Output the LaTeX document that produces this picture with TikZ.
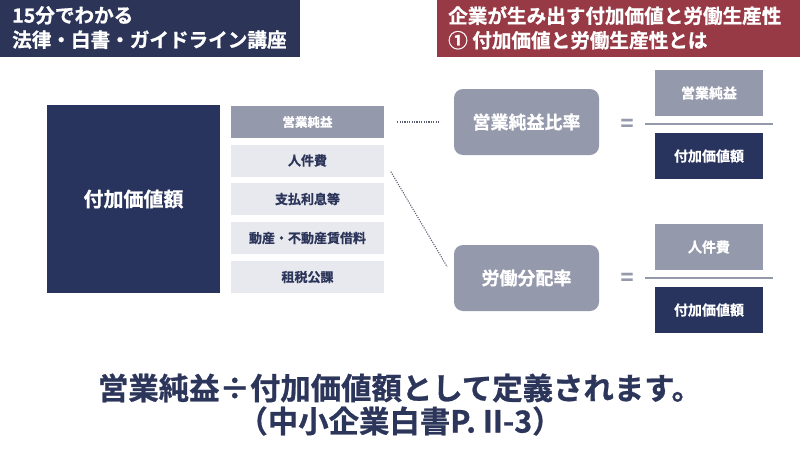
\documentclass[tikz,border=0pt]{standalone}
\usepackage{fontspec}
\setmainfont{Noto Sans CJK JP}[BoldFont={Noto Sans CJK JP Bold},BoldFeatures={FakeBold=0.8}]
\definecolor{navy}{RGB}{40,51,94}
\definecolor{hdrnavy}{RGB}{44,52,88}
\definecolor{wine}{RGB}{152,58,69}
\definecolor{mgray}{RGB}{149,153,172}
\definecolor{lgray}{RGB}{232,233,238}
\definecolor{txtnavy}{RGB}{44,53,90}
\definecolor{dotgray}{RGB}{90,94,112}
\tikzset{
  hdr/.style={anchor=north west,inner sep=0pt,text=white,align=left,font=\fontsize{19.6}{24.5}\selectfont\bfseries},
  bigbox/.style={fill=navy,minimum width=173pt,minimum height=188pt,inner sep=0pt,text=white,font=\fontsize{20}{24}\selectfont\bfseries},
  stackbox/.style={fill=lgray,minimum width=153pt,minimum height=32pt,inner sep=0pt,text=txtnavy,font=\fontsize{13}{15}\selectfont\bfseries},
  stacktop/.style={stackbox,fill=mgray,text=white,font=\fontsize{12.5}{15}\selectfont\bfseries},
  ratiobox/.style={fill=mgray,rounded corners=9pt,minimum width=145pt,minimum height=66pt,inner sep=0pt,text=white,font=\fontsize{18}{22}\selectfont\bfseries},
  numbox/.style={fill=mgray,minimum width=108pt,minimum height=46pt,inner sep=0pt,text=white,font=\fontsize{14}{17}\selectfont\bfseries},
  denbox/.style={numbox,fill=navy},
  eqsign/.style={text=mgray,inner sep=0pt,font=\fontsize{22}{24}\selectfont\bfseries},
  fracline/.style={draw=mgray,line width=1.6pt},
  dotline/.style={draw=dotgray,line width=1.1pt,dash pattern=on 1.1pt off 1.3pt},
  bottomtxt/.style={text=txtnavy,inner sep=0pt,font=\fontsize{30.4}{34}\selectfont\bfseries}
}
\begin{document}
\begin{tikzpicture}[x=1pt,y=-1pt]
\useasboundingbox (0,0) rectangle (800,450);
\fill[white] (0,0) rectangle (800,450);
% headers
\fill[hdrnavy] (0,0) rectangle (300,57);
\node[hdr] (h1) at (12,6) {15分でわかる\\法律・白書・ガイドライン講座};
\fill[wine] (437,0) rectangle (800,57);
\node[hdr] (h2) at (448,6) {企業が生み出す付加価値と労働生産性\\① 付加価値と労働生産性とは};
% big box
\node[bigbox] (big) at (133.5,199) {付加価値額};
% stack
\node[stacktop] (s1) at (307.5,122) {営業純益};
\node[stackbox] (s2) at (307.5,160.5) {人件費};
\node[stackbox] (s3) at (307.5,199) {支払利息等};
\node[stackbox] (s4) at (307.5,238) {動産・不動産賃借料};
\node[stackbox] (s5) at (307.5,277) {租税公課};
% ratios
\node[ratiobox] (r1) at (526.5,122) {営業純益比率};
\node[ratiobox] (r2) at (526.5,278) {労働分配率};
\draw[dotline,shorten <=13pt,shorten >=14pt] (s1.east) -- (r1.west);
\draw[dotline,shorten <=13pt,shorten >=13pt] (s2.east) -- (r2.west);
% equals
\node[eqsign] (e1) at (627,125) {=};
\node[eqsign] (e2) at (627,279) {=};
% fractions
\node[numbox] (n1) at (709,93) {営業純益};
\node[denbox] (d1) at (709,156) {付加価値額};
\coordinate (l1a) at (645,124);
\coordinate (l1b) at (773,124);
\draw[fracline] (l1a) -- (l1b);
\node[numbox] (n2) at (709,247) {人件費};
\node[denbox] (d2) at (709,310) {付加価値額};
\coordinate (l2a) at (645,278);
\coordinate (l2b) at (773,278);
\draw[fracline] (l2a) -- (l2b);
% bottom text
\node[bottomtxt] (b1) at (400,388) {営業純益÷付加価値額として定義されます。};
\node[bottomtxt] (b2) at (400,421) {（中小企業白書P. II-3）};
\end{tikzpicture}
\end{document}
